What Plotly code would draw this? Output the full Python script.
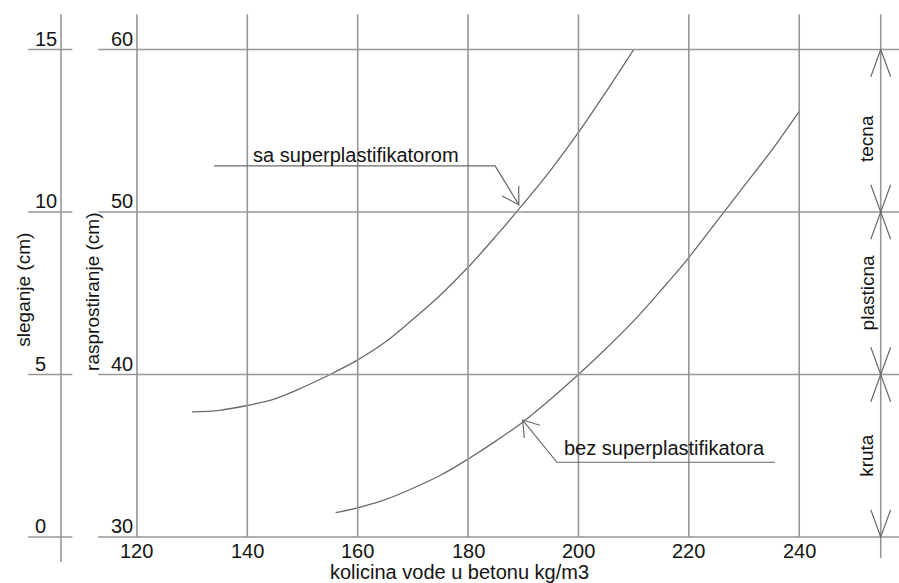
import math
import plotly.graph_objects as go

# ---------------- data ----------------
water_sa = [130, 135, 140, 145, 150, 155, 160, 165, 170, 175, 180, 185, 190, 195, 200, 205, 210]
spread_sa = [37.7, 37.8, 38.1, 38.5, 39.2, 40.0, 40.9, 42.0, 43.4, 44.9, 46.6, 48.5, 50.5, 52.6, 54.9, 57.4, 60.0]

water_bez = [156, 160, 165, 170, 175, 180, 185, 190, 195, 200, 205, 210, 215, 220, 225, 230, 235, 240]
spread_bez = [31.5, 31.8, 32.3, 33.0, 33.8, 34.8, 35.9, 37.1, 38.5, 40.0, 41.6, 43.3, 45.2, 47.2, 49.4, 51.6, 53.8, 56.2]

x_ticks = [120, 140, 160, 180, 200, 220, 240]
spread_ticks = [30, 40, 50, 60]
slump_ticks = [0, 5, 10, 15]
zone_names = ["kruta", "plasticna", "tecna"]
zone_bounds = [30, 40, 50, 60]
zone_label_y = [35, 45, 54.5]

label_sa = "sa superplastifikatorom"
label_bez = "bez superplastifikatora"
x_title = "kolicina vode u betonu kg/m3"
y_title_spread = "rasprostiranje (cm)"
y_title_slump = "sleganje (cm)"

# ---------------- layout constants ----------------
W, H = 899, 583
X0, X1 = 95.19, 258.08
Y0, Y1 = 27.17, 63.05
SX = W / (X1 - X0)
SY = H / (Y1 - Y0)

GRID = "#969696"
CURVE = "#6a6a6a"
TEXT = "#141414"
FONT = "Liberation Sans, Arial, sans-serif"

X_SLUMP_AXIS = 106.25
X_RIGHT = 254.77
Y_TOP = 62.18

shapes = []


def line(x0, y0, x1, y1, color=GRID, width=1.6):
    shapes.append(dict(type="line", xref="x", yref="y", x0=x0, y0=y0, x1=x1, y1=y1,
                       line=dict(color=color, width=width)))


def chevron(xt, yt, bx, by, half_deg, length, color=CURVE, width=1.2):
    # (bx, by): direction (screen px, y down) from tip towards the tail
    n = math.hypot(bx, by)
    ux, uy = bx / n, by / n
    pts = []
    for s in (-1, 1):
        a = math.radians(half_deg) * s
        rx = ux * math.cos(a) - uy * math.sin(a)
        ry = ux * math.sin(a) + uy * math.cos(a)
        pts.append((xt + rx * length / SX, yt - ry * length / SY))
    path = "M {:.4f},{:.4f} L {:.4f},{:.4f} L {:.4f},{:.4f}".format(
        pts[0][0], pts[0][1], xt, yt, pts[1][0], pts[1][1])
    shapes.append(dict(type="path", xref="x", yref="y", path=path,
                       line=dict(color=color, width=width)))


# vertical grid lines (x ticks)
for xv in x_ticks:
    line(xv, spread_ticks[0], xv, Y_TOP)
# horizontal lines (spread ticks)
for yv in spread_ticks:
    line(113.0, yv, 262, yv)
# slump axis with ticks
line(X_SLUMP_AXIS, 28.46, X_SLUMP_AXIS, Y_TOP)
for sv in slump_ticks:
    yv = 30 + 2 * sv
    line(100.3, yv, 108.3, yv)
# right zone axis with dimension arrows
line(X_RIGHT, 28.71, X_RIGHT, Y_TOP)
for i, yb in enumerate(zone_bounds):
    if i < len(zone_bounds) - 1:
        chevron(X_RIGHT, yb, 0, -1, 20, 29)   # arrow pointing down onto this bound (arms above)
    if i > 0:
        chevron(X_RIGHT, yb, 0, 1, 20, 29)    # arrow pointing up onto this bound (arms below)

# leader for "sa superplastifikatorom"
tip_sa = (189.2, 50.45)
corner_sa = (184.9, 52.84)
shapes.append(dict(type="path", xref="x", yref="y",
                   path="M 134.0,{c} L {cx},{c} L {tx},{ty}".format(c=corner_sa[1], cx=corner_sa[0],
                                                                  tx=tip_sa[0], ty=tip_sa[1]),
                   line=dict(color=CURVE, width=1.2)))
chevron(tip_sa[0], tip_sa[1], (corner_sa[0] - tip_sa[0]) * SX, -(corner_sa[1] - tip_sa[1]) * SY, 31, 19)

# leader for "bez superplastifikatora"
tip_bez = (189.9, 37.2)
corner_bez = (196.1, 34.6)
shapes.append(dict(type="path", xref="x", yref="y",
                   path="M {tx},{ty} L {cx},{c} L 235.6,{c}".format(c=corner_bez[1], cx=corner_bez[0],
                                                                  tx=tip_bez[0], ty=tip_bez[1]),
                   line=dict(color=CURVE, width=1.2)))
chevron(tip_bez[0], tip_bez[1], (corner_bez[0] - tip_bez[0]) * SX, -(corner_bez[1] - tip_bez[1]) * SY, 34, 18)

fig = go.Figure()
fig.add_trace(go.Scatter(x=water_sa, y=spread_sa, mode="lines",
                         line=dict(color=CURVE, width=1.3, shape="spline"), hoverinfo="skip"))
fig.add_trace(go.Scatter(x=water_bez, y=spread_bez, mode="lines",
                         line=dict(color=CURVE, width=1.3, shape="spline"), hoverinfo="skip"))

ann = []


def text(x, y, s, size=20, xanchor="center", yanchor="middle", angle=0, yshift=0):
    ann.append(dict(x=x, y=y, xref="x", yref="y", text=s, showarrow=False,
                    xanchor=xanchor, yanchor=yanchor, textangle=angle, yshift=yshift,
                    font=dict(family=FONT, size=size, color=TEXT)))


for xv in x_ticks:
    text(xv, spread_ticks[0], str(xv), yanchor="top", yshift=-1)
for yv in spread_ticks:
    text(114.9, yv, str(yv), xanchor="left", yanchor="bottom", yshift=-2)
for sv in slump_ticks:
    text(101.2, 30 + 2 * sv, str(sv), xanchor="left", yanchor="bottom", yshift=-2)
for name, yv in zip(zone_names, zone_label_y):
    text(252.3, yv, name, size=19, angle=-90)

text(159.7, 53.5, label_sa)
text(215.65, 35.5, label_bez)
text(178.36, 27.66, x_title, yshift=3)
text(111.9, 45.1, y_title_spread, size=19, angle=-90)
text(99.3, 45.2, y_title_slump, size=19, angle=-90)

fig.update_layout(
    width=W, height=H, autosize=False,
    margin=dict(l=0, r=0, t=0, b=0, pad=0),
    paper_bgcolor="white", plot_bgcolor="white",
    showlegend=False,
    xaxis=dict(range=[X0, X1], visible=False, fixedrange=True),
    yaxis=dict(range=[Y0, Y1], visible=False, fixedrange=True),
    shapes=shapes,
    annotations=ann,
)

fig.write_html("out.html", config={"displayModeBar": False},
               post_script="document.body.style.margin='0';document.body.style.overflow='hidden';")
